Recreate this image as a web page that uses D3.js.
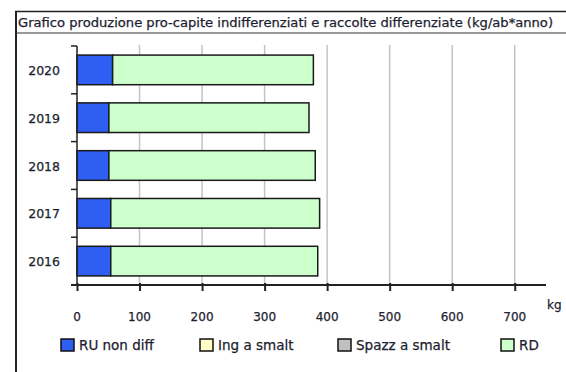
<!DOCTYPE html>
<html>
<head>
<meta charset="utf-8">
<script src="https://cdn.jsdelivr.net/npm/d3@7"></script>
<style>
  html, body { margin: 0; padding: 0; background: #fff; }
  svg { display: block; }
  text { font-family: "DejaVu Sans", Verdana, sans-serif; fill: #1e1e30; stroke: #1e1e30; stroke-width: 0.25px; }
</style>
</head>
<body>
<svg id="chart" width="566" height="372"></svg>
<script>
// Per-capita production by year (kg per inhabitant per year)
const years = ["2020", "2019", "2018", "2017", "2016"];
const ruNonDiff = [57, 51, 51, 54, 54];
const ingSmalt = [0, 0, 0, 0, 0];
const spazzSmalt = [0, 0, 0, 0, 0];
const rd = [321, 320, 330, 334, 331];
const seriesNames = ["RU non diff", "Ing a smalt", "Spazz a smalt", "RD"];
const seriesColors = ["#2f5ef2", "#ffffc6", "#c0c0c0", "#ccffcc"];
const xTicks = [0, 100, 200, 300, 400, 500, 600, 700];
const title = "Grafico produzione pro-capite indifferenziati e raccolte differenziate (kg/ab*anno)";

const rows = years.map((y, i) => ({
  year: y,
  "RU non diff": ruNonDiff[i],
  "Ing a smalt": ingSmalt[i],
  "Spazz a smalt": spazzSmalt[i],
  "RD": rd[i]
}));

const svg = d3.select("#chart");

// Frame: title box and left rule
svg.append("line").attr("x1", 16).attr("x2", 16).attr("y1", 11).attr("y2", 372)
  .attr("stroke", "#222").attr("stroke-width", 2);
svg.append("line").attr("x1", 15).attr("x2", 566).attr("y1", 11.5).attr("y2", 11.5)
  .attr("stroke", "#222").attr("stroke-width", 1.5);
svg.append("line").attr("x1", 15).attr("x2", 566).attr("y1", 33).attr("y2", 33)
  .attr("stroke", "#333").attr("stroke-width", 1.2);
svg.append("text").attr("x", 18).attr("y", 27)
  .attr("font-size", 12).attr("textLength", 535).attr("lengthAdjust", "spacingAndGlyphs")
  .text(title);

const x = d3.scaleLinear().domain([0, 750]).range([77, 546]);
const y = d3.scaleBand().domain(years).range([46, 285]).paddingInner(0).paddingOuter(0);
const barH = y.bandwidth() * 0.62;
const barOff = (y.bandwidth() - barH) / 2;

// Vertical gridlines
svg.append("g").selectAll("line").data(xTicks.filter(d => d > 0)).join("line")
  .attr("x1", d => x(d)).attr("x2", d => x(d))
  .attr("y1", 45).attr("y2", 285)
  .attr("stroke", "#c4c4c4").attr("stroke-width", 1.5);

// Stacked bars
const stack = d3.stack().keys(seriesNames);
const layers = stack(rows);
svg.append("g").selectAll("g").data(layers).join("g")
  .attr("fill", (d, i) => seriesColors[i])
  .selectAll("rect").data(d => d.filter(p => p[1] - p[0] > 0)).join("rect")
  .attr("x", d => x(d[0]))
  .attr("width", d => x(d[1]) - x(d[0]))
  .attr("y", d => y(d.data.year) + barOff)
  .attr("height", barH)
  .attr("stroke", "#1a1a1a").attr("stroke-width", 1.5);

// Category axis (left) with ticks at band boundaries
const yAxisG = svg.append("g");
yAxisG.append("line").attr("x1", 77).attr("x2", 77).attr("y1", 46).attr("y2", 286)
  .attr("stroke", "#222").attr("stroke-width", 1.5);
const bounds = years.map(yr => y(yr)).concat([y.range()[1]]);
yAxisG.selectAll("line.b").data(bounds).join("line").attr("class", "b")
  .attr("x1", 71).attr("x2", 77).attr("y1", d => d).attr("y2", d => d)
  .attr("stroke", "#222").attr("stroke-width", 1.5);
yAxisG.selectAll("text").data(years).join("text")
  .attr("x", 60).attr("y", d => y(d) + y.bandwidth() / 2 + 5)
  .attr("text-anchor", "end").attr("font-size", 12.5)
  .text(d => d);

// Value axis (bottom)
const xAxis = d3.axisBottom(x).tickValues(xTicks).tickSize(0).tickFormat("");
const xg = svg.append("g").attr("transform", "translate(0,285)").call(xAxis);
xg.select(".domain").attr("stroke", "#222").attr("stroke-width", 2).attr("d", `M71,0H546`);
xg.selectAll(".tick line").attr("y1", -2).attr("y2", 6).attr("stroke", "#222").attr("stroke-width", 2);
svg.append("g").selectAll("text").data(xTicks).join("text")
  .attr("x", d => x(d)).attr("y", 321)
  .attr("text-anchor", "middle").attr("font-size", 12)
  .text(d => d);
svg.append("text").attr("x", 547).attr("y", 309).attr("font-size", 12).text("kg");

// Legend
const legendX = [61, 200, 338, 501];
const lg = svg.append("g").selectAll("g").data(seriesNames).join("g")
  .attr("transform", (d, i) => `translate(${legendX[i]},339)`);
lg.append("rect").attr("width", 13).attr("height", 12)
  .attr("fill", (d, i) => seriesColors[i]).attr("stroke", "#111").attr("stroke-width", 1.5);
lg.append("text").attr("x", 18).attr("y", 11).attr("font-size", 13.5).text(d => d);
</script>
</body>
</html>
